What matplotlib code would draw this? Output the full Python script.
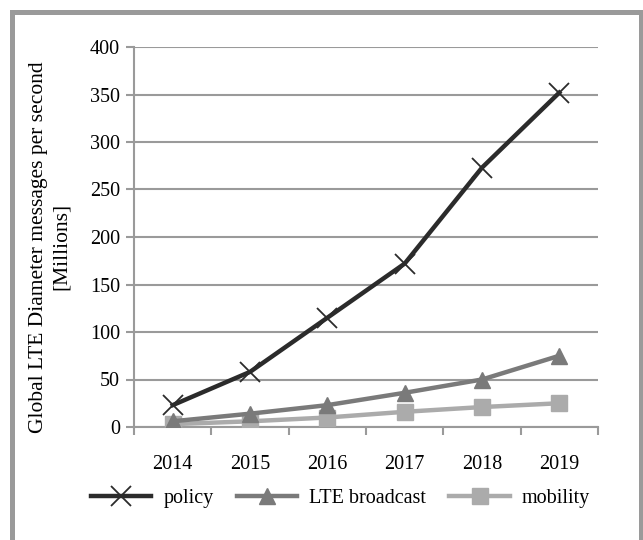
import matplotlib.pyplot as plt
from matplotlib.patches import Rectangle

years = ["2014", "2015", "2016", "2017", "2018", "2019"]
policy = [23, 58, 115, 172, 273, 352]
lte_broadcast = [6, 14, 23, 36, 50, 75]
mobility = [3, 6, 10, 16, 21, 25]
y_ticks = [0, 50, 100, 150, 200, 250, 300, 350, 400]

plt.rcParams['font.family'] = ['Liberation Serif', 'DejaVu Serif']

fig = plt.figure(figsize=(6.43, 5.4), dpi=100)
ax = fig.add_axes([134 / 643, 1 - 427 / 540, 464 / 643, 380 / 540])

x = list(range(len(years)))
grid_c = '#9a9a9a'

ax.plot(x, policy, color='#2b2b2b', lw=3.2, marker='x', ms=15, mew=1.3,
        label='policy', zorder=5)
ax.plot(x, lte_broadcast, color='#7a7a7a', lw=3.2, marker='^', ms=12,
        label='LTE broadcast', zorder=4)
ax.plot(x, mobility, color='#ababab', lw=3.2, marker='s', ms=11,
        label='mobility', zorder=3)

ax.set_xlim(-0.5, len(years) - 0.5)
ax.set_ylim(0, 400)
ax.set_yticks(y_ticks)
ax.yaxis.grid(True, color=grid_c, lw=1.5)
ax.set_axisbelow(True)

ax.set_xticks(x)
ax.set_xticklabels(years, fontsize=14.5)
ax.set_xticks([i - 0.5 for i in range(len(years) + 1)], minor=True)
ax.tick_params(axis='x', which='major', length=0, pad=20)
ax.tick_params(axis='x', which='minor', length=6, width=1.5, color=grid_c)
ax.tick_params(axis='y', length=6, width=1.5, color=grid_c, labelsize=14.5, pad=4)

for s in ['top', 'right']:
    ax.spines[s].set_visible(False)
for s in ['left', 'bottom']:
    ax.spines[s].set_color(grid_c)
    ax.spines[s].set_linewidth(1.5)

ax.set_ylabel("Global LTE Diameter messages per second\n[Millions]",
              fontsize=15.5, linespacing=1.25)
ax.yaxis.set_label_coords(-0.136, 0.474)

ax.legend(loc='upper center', bbox_to_anchor=(0.445, -0.115), ncol=3,
          frameon=False, fontsize=14.5, handlelength=3.0, columnspacing=1.15,
          handletextpad=0.6)

fig.patches.append(Rectangle((11.5 / 643, -0.1), (641 - 11.5) / 643, 1.1 - 12 / 540,
                             transform=fig.transFigure, fill=False,
                             edgecolor='#9a9a9a', lw=3.6, zorder=0))

fig.savefig("out.png", dpi=100)
